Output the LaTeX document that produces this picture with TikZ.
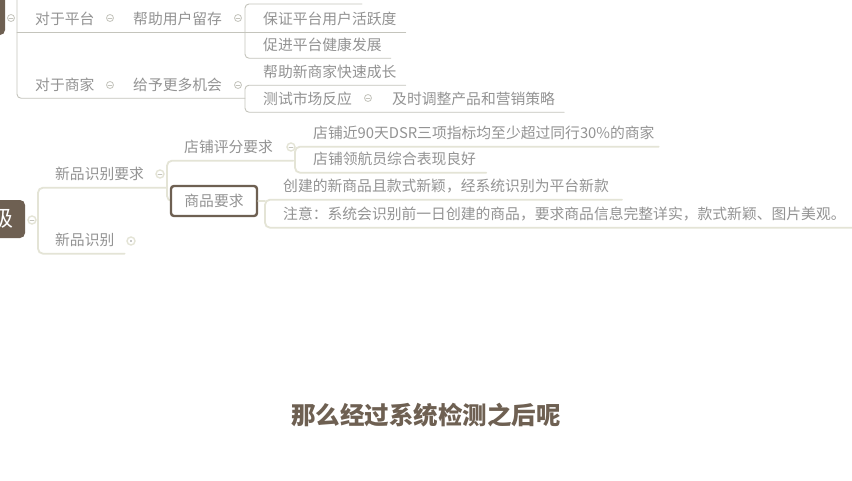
\documentclass[tikz,border=0pt]{standalone}
\usepackage{fontspec}
\newfontfamily\cjk{Noto Sans CJK SC}
\usepackage{xcolor}
\usepackage{tikz}
\usetikzlibrary{positioning}
\definecolor{txtgray}{HTML}{939393}
\definecolor{linegray}{HTML}{C4C4BC}
\definecolor{beige}{HTML}{E4E4D6}
\definecolor{mapbrown}{HTML}{6E6052}

\begin{document}
\begin{tikzpicture}[x=1pt, y=-1pt, line cap=round,
    topic/.style={text=txtgray, font=\cjk\fontsize{14.8}{16}\selectfont,
      inner xsep=0pt, inner ysep=6pt, text height=13pt, text depth=2pt, anchor=west},
    goodsbox/.style={draw=mapbrown, line width=2.4pt, rounded corners=3pt, fill=white,
      text=txtgray, font=\cjk\fontsize{14.8}{16}\selectfont,
      minimum width=86pt, minimum height=30pt, inner sep=0pt},
    rootbox/.style={fill=mapbrown, rounded corners=5pt, inner sep=0pt},
    thinln/.style={draw=linegray, line width=0.9pt, rounded corners=4pt},
    wideln/.style={draw=beige, line width=1.8pt, rounded corners=5pt},
    tog/.style={circle, draw=linegray, fill=white, line width=0.8pt, inner sep=0pt,
      minimum size=7pt, path picture={\draw[linegray, line width=0.7pt]
        ([xshift=-2pt]path picture bounding box.center) --
        ([xshift=2pt]path picture bounding box.center);}},
    midtog/.style={tog, draw=beige, line width=1.4pt, minimum size=8pt},
    middot/.style={circle, draw=beige, fill=white, line width=1.4pt, inner sep=0pt,
      minimum size=8pt, path picture={\fill[txtgray]
        (path picture bounding box.center) circle (0.9pt);}}]
  \useasboundingbox[fill=white] (0,0) rectangle (852,480);

  % upper map, cut off at the top
  \node[rootbox, minimum width=25pt, minimum height=45pt] (r0) at (-7.5,12.5) {};
  \node[topic] (pf) at (35,18.5) {对于平台};
  \node[topic] (keep) at (133,18.5) {帮助用户留存};
  \node[topic] (act) at (263,18.5) {保证平台用户活跃度};
  \node[topic] (health) at (263,44.5) {促进平台健康发展};
  \node[topic] (mer) at (35,84.5) {对于商家};
  \node[topic] (more) at (133,84.5) {给予更多机会};
  \node[topic] (grow) at (263,71.5) {帮助新商家快速成长};
  \node[topic] (test) at (263,98.5) {测试市场反应};
  \node[topic] (adj) at (392,98.5) {及时调整产品和营销策略};
  \coordinate (s0) at (17,0);
  \coordinate (b0) at (245,0);
  \coordinate (b0top) at (362,4);
  \draw[thinln] (s0) -- (s0 |- mer.south) -- (b0 |- mer.south);
  \draw[thinln] (s0 |- pf.south) -- ([xshift=9pt]act.south east);
  \draw[thinln] (b0top) -- (b0 |- b0top) -- (b0 |- health.south)
    -- ([xshift=9pt]health.south east);
  \draw[thinln] ([xshift=9pt]grow.south east) -- (b0 |- grow.south)
    -- (b0 |- test.south) -- ([xshift=9pt]adj.south east);
  \node[tog] (t1) at (11,18) {};
  \node[tog] (t2) at (110,18) {};
  \node[tog] (t3) at (238,18) {};
  \node[tog] (t4) at (110,85) {};
  \node[tog] (t5) at (238,85) {};
  \node[tog] (t6) at (368,98) {};

  % lower map
  \node[rootbox, minimum width=55pt, minimum height=38pt] (r1) at (-2.5,219) {};
  \node[text=white, font=\cjk\fontsize{22}{24}\selectfont, inner sep=0pt] (r1t) at (2,218) {级};
  \node[topic] (nreq) at (55,174) {新品识别要求};
  \node[topic] (nid) at (55,240) {新品识别};
  \node[topic] (shop) at (184,147) {店铺评分要求};
  \node[topic] (dsr) at (313,133) {店铺近90天DSR三项指标均至少超过同行30\%的商家};
  \node[topic] (nav) at (313,159) {店铺领航员综合表现良好};
  \node[topic] (newp) at (283,186) {创建的新商品且款式新颖，经系统识别为平台新款};
  \node[topic] (note) at (283,214) {注意：系统会识别前一日创建的商品，要求商品信息完整详实，款式新颖、图片美观。};
  \coordinate (s1) at (38,0);
  \coordinate (b1) at (167,0);
  \coordinate (b2) at (295,0);
  \coordinate (b3) at (265,0);
  \draw[wideln] (b1 |- nreq.south) -- (s1 |- nreq.south) -- (s1 |- nid.south)
    -- ([xshift=10pt]nid.south east);
  \draw[wideln] ([xshift=20pt]shop.south east) -- (b1 |- shop.south) -- (b1 |- 0,201) -- (171,201);
  \draw[wideln] ([xshift=4pt]dsr.south east) -- (b2 |- dsr.south) -- (b2 |- nav.south)
    -- ([xshift=10pt]nav.south east);
  \draw[wideln] ([xshift=13pt]newp.south east) -- (b3 |- newp.south) -- (b3 |- note.south)
    -- ([xshift=6pt]note.south east);
  \node[goodsbox] (goods) at (214,201) {商品要求};
  \draw[wideln] (goods.east) -- (b3 |- goods.east);
  \node[midtog] (t7) at (32,220) {};
  \node[midtog] (t8) at (160,174) {};
  \node[middot] (t9) at (131,241) {};
  \node[midtog] (t10) at (291,147) {};

  % caption
  \node[text=mapbrown, font=\cjk\bfseries\fontsize{24.5}{26}\selectfont, inner sep=0pt]
    (sub) at (426,415) {那么经过系统检测之后呢};
\end{tikzpicture}
\end{document}
